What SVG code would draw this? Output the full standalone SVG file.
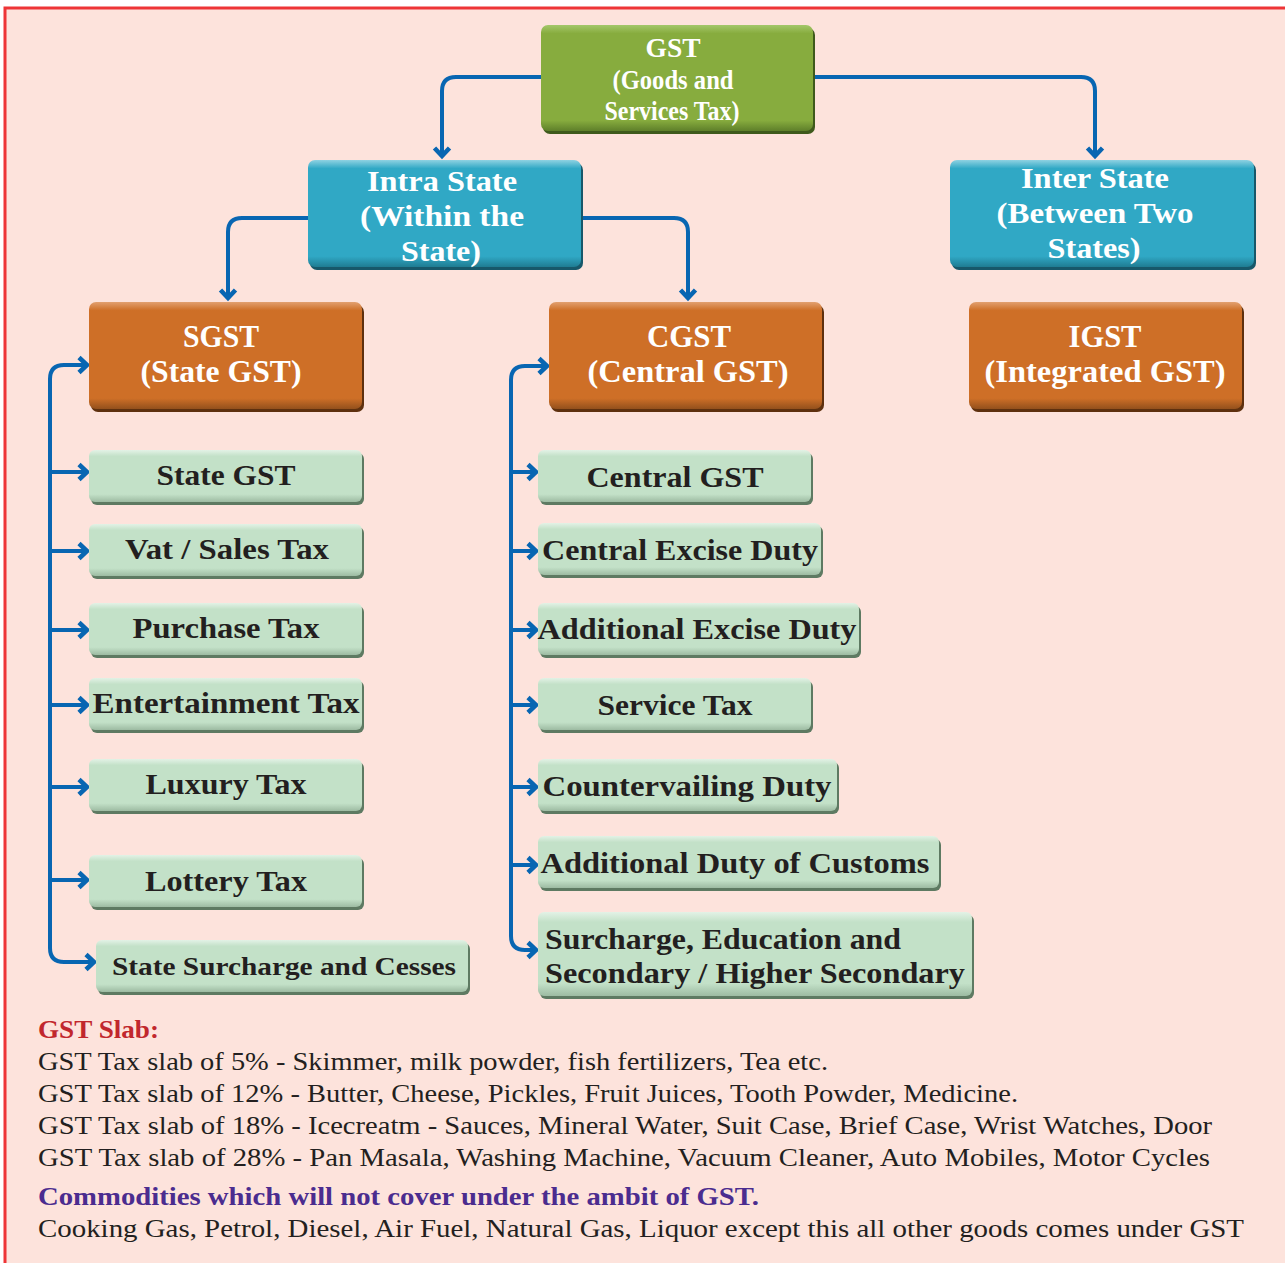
<svg xmlns="http://www.w3.org/2000/svg" width="1285" height="1263" viewBox="0 0 1285 1263">
<defs>
<style>
.t{font-family:"Liberation Serif","Times New Roman",serif;font-weight:bold;text-anchor:middle}
.w{fill:#ffffff}
.d{fill:#231F20}
.con{fill:none;stroke:#0866B2;stroke-width:4;marker-end:url(#ah)}
.body{font-family:"Liberation Serif","Times New Roman",serif;font-size:26px;fill:#231F20}
</style>
<marker id="ah" markerUnits="userSpaceOnUse" markerWidth="22" markerHeight="22" viewBox="0 0 22 22" refX="15" refY="11" orient="auto">
<path d="M6,3.5 L14,11 L6,18.5" fill="none" stroke="#0866B2" stroke-width="4.6" stroke-linejoin="miter"/>
</marker>
<linearGradient id="gG" x1="0" y1="0" x2="0" y2="1">
<stop offset="0" stop-color="#A4C76A"/><stop offset="0.08" stop-color="#87AC3E"/><stop offset="0.9" stop-color="#87AC3E"/><stop offset="1" stop-color="#5E7F2A"/>
</linearGradient>
<linearGradient id="gB" x1="0" y1="0" x2="0" y2="1">
<stop offset="0" stop-color="#8FD2E2"/><stop offset="0.08" stop-color="#30A8C5"/><stop offset="0.9" stop-color="#30A8C5"/><stop offset="1" stop-color="#1F7C92"/>
</linearGradient>
<linearGradient id="gO" x1="0" y1="0" x2="0" y2="1">
<stop offset="0" stop-color="#E2A070"/><stop offset="0.08" stop-color="#CE6F27"/><stop offset="0.9" stop-color="#CE6F27"/><stop offset="1" stop-color="#93501C"/>
</linearGradient>
<linearGradient id="gL" x1="0" y1="0" x2="0" y2="1">
<stop offset="0" stop-color="#E3F2E6"/><stop offset="0.12" stop-color="#C3E1C8"/><stop offset="0.85" stop-color="#C3E1C8"/><stop offset="1" stop-color="#9DBBA2"/>
</linearGradient>
</defs>

<rect x="0" y="0" width="1285" height="1263" fill="#ffffff"/>
<rect x="5" y="8" width="1290" height="1270" fill="#FDE3DC" stroke="#EE3537" stroke-width="3"/>

<g id="connectors">
<path class="con" d="M541,77 H456 Q442,77 442,91 V157"/>
<path class="con" d="M813,77 H1081 Q1095,77 1095,91 V157"/>
<path class="con" d="M308,218 H242 Q228,218 228,232 V299"/>
<path class="con" d="M581,218 H674 Q688,218 688,232 V299"/>
<path class="con" d="M50,480 V379 Q50,365 64,365 H88"/>
<path class="con" d="M50,470 V948 Q50,962 64,962 H95"/>
<path class="con" d="M50,472 H88"/>
<path class="con" d="M50,551 H88"/>
<path class="con" d="M50,630 H88"/>
<path class="con" d="M50,705 H88"/>
<path class="con" d="M50,787 H88"/>
<path class="con" d="M50,880 H88"/>
<path class="con" d="M511,480 V380 Q511,366 525,366 H548"/>
<path class="con" d="M511,470 V936 Q511,950 525,950 H537"/>
<path class="con" d="M511,472 H537"/>
<path class="con" d="M511,551 H537"/>
<path class="con" d="M511,630 H537"/>
<path class="con" d="M511,705 H537"/>
<path class="con" d="M511,787 H537"/>
<path class="con" d="M511,865 H537"/>
</g>

<g id="gst">
<rect x="543" y="28" width="272" height="106" rx="7" fill="#3F5A1C"/>
<rect x="541" y="25" width="272" height="106" rx="7" fill="url(#gG)"/>
<text class="t w" font-size="27" x="673" y="57" textLength="55" lengthAdjust="spacingAndGlyphs">GST</text>
<text class="t w" font-size="27" x="673" y="89" textLength="121" lengthAdjust="spacingAndGlyphs">(Goods and</text>
<text class="t w" font-size="27" x="672" y="120" textLength="135" lengthAdjust="spacingAndGlyphs">Services Tax)</text>
</g>

<g id="intra">
<rect x="310" y="163" width="273" height="107" rx="7" fill="#17586A"/>
<rect x="308" y="160" width="273" height="107" rx="7" fill="url(#gB)"/>
<text class="t w" font-size="30" x="442" y="191" textLength="150" lengthAdjust="spacingAndGlyphs">Intra State</text>
<text class="t w" font-size="30" x="442" y="226" textLength="164" lengthAdjust="spacingAndGlyphs">(Within the</text>
<text class="t w" font-size="30" x="441" y="261" textLength="80" lengthAdjust="spacingAndGlyphs">State)</text>
</g>

<g id="inter">
<rect x="952" y="163" width="304" height="107" rx="7" fill="#17586A"/>
<rect x="950" y="160" width="304" height="107" rx="7" fill="url(#gB)"/>
<text class="t w" font-size="30" x="1095" y="188" textLength="148" lengthAdjust="spacingAndGlyphs">Inter State</text>
<text class="t w" font-size="30" x="1095" y="223" textLength="197" lengthAdjust="spacingAndGlyphs">(Between Two</text>
<text class="t w" font-size="30" x="1094" y="258" textLength="93" lengthAdjust="spacingAndGlyphs">States)</text>
</g>

<g id="sgst">
<rect x="91" y="305" width="273" height="107" rx="7" fill="#5E300E"/>
<rect x="89" y="302" width="273" height="107" rx="7" fill="url(#gO)"/>
<text class="t w" font-size="31" x="221" y="347" textLength="76" lengthAdjust="spacingAndGlyphs">SGST</text>
<text class="t w" font-size="31" x="221" y="382" textLength="161" lengthAdjust="spacingAndGlyphs">(State GST)</text>
</g>

<g id="cgst">
<rect x="551" y="305" width="273" height="107" rx="7" fill="#5E300E"/>
<rect x="549" y="302" width="273" height="107" rx="7" fill="url(#gO)"/>
<text class="t w" font-size="31" x="689" y="347" textLength="84" lengthAdjust="spacingAndGlyphs">CGST</text>
<text class="t w" font-size="31" x="688" y="382" textLength="201" lengthAdjust="spacingAndGlyphs">(Central GST)</text>
</g>

<g id="igst">
<rect x="971" y="305" width="273" height="107" rx="7" fill="#5E300E"/>
<rect x="969" y="302" width="273" height="107" rx="7" fill="url(#gO)"/>
<text class="t w" font-size="31" x="1105" y="347" textLength="73" lengthAdjust="spacingAndGlyphs">IGST</text>
<text class="t w" font-size="31" x="1105" y="382" textLength="241" lengthAdjust="spacingAndGlyphs">(Integrated GST)</text>
</g>

<g id="state-gst">
<rect x="91" y="453" width="273" height="52" rx="6" fill="#5E7A62"/>
<rect x="89" y="450" width="273" height="52" rx="6" fill="url(#gL)"/>
<text class="t d" font-size="29" x="226" y="485" textLength="139" lengthAdjust="spacingAndGlyphs">State GST</text>
</g>
<g id="vat">
<rect x="91" y="527" width="273" height="52" rx="6" fill="#5E7A62"/>
<rect x="89" y="524" width="273" height="52" rx="6" fill="url(#gL)"/>
<text class="t d" font-size="29" x="227" y="559" textLength="204" lengthAdjust="spacingAndGlyphs">Vat / Sales Tax</text>
</g>
<g id="purchase">
<rect x="91" y="606" width="273" height="52" rx="6" fill="#5E7A62"/>
<rect x="89" y="603" width="273" height="52" rx="6" fill="url(#gL)"/>
<text class="t d" font-size="29" x="226" y="638" textLength="187" lengthAdjust="spacingAndGlyphs">Purchase Tax</text>
</g>
<g id="entertainment">
<rect x="91" y="681" width="273" height="52" rx="6" fill="#5E7A62"/>
<rect x="89" y="678" width="273" height="52" rx="6" fill="url(#gL)"/>
<text class="t d" font-size="29" x="226" y="713" textLength="267" lengthAdjust="spacingAndGlyphs">Entertainment Tax</text>
</g>
<g id="luxury">
<rect x="91" y="762" width="273" height="52" rx="6" fill="#5E7A62"/>
<rect x="89" y="759" width="273" height="52" rx="6" fill="url(#gL)"/>
<text class="t d" font-size="29" x="226" y="794" textLength="161" lengthAdjust="spacingAndGlyphs">Luxury Tax</text>
</g>
<g id="lottery">
<rect x="91" y="858" width="273" height="52" rx="6" fill="#5E7A62"/>
<rect x="89" y="855" width="273" height="52" rx="6" fill="url(#gL)"/>
<text class="t d" font-size="29" x="226" y="891" textLength="162" lengthAdjust="spacingAndGlyphs">Lottery Tax</text>
</g>
<g id="state-surcharge">
<rect x="98" y="943" width="372" height="52" rx="6" fill="#5E7A62"/>
<rect x="96" y="940" width="372" height="52" rx="6" fill="url(#gL)"/>
<text class="t d" font-size="26" x="284" y="975" textLength="344" lengthAdjust="spacingAndGlyphs">State Surcharge and Cesses</text>
</g>

<g id="central-gst">
<rect x="540" y="453" width="273" height="52" rx="6" fill="#5E7A62"/>
<rect x="538" y="450" width="273" height="52" rx="6" fill="url(#gL)"/>
<text class="t d" font-size="29" x="675" y="487" textLength="177" lengthAdjust="spacingAndGlyphs">Central GST</text>
</g>
<g id="central-excise">
<rect x="540" y="526" width="283" height="52" rx="6" fill="#5E7A62"/>
<rect x="538" y="523" width="283" height="52" rx="6" fill="url(#gL)"/>
<text class="t d" font-size="29" x="680" y="560" textLength="276" lengthAdjust="spacingAndGlyphs">Central Excise Duty</text>
</g>
<g id="additional-excise">
<rect x="540" y="606" width="321" height="52" rx="6" fill="#5E7A62"/>
<rect x="538" y="603" width="321" height="52" rx="6" fill="url(#gL)"/>
<text class="t d" font-size="29" x="697" y="639" textLength="319" lengthAdjust="spacingAndGlyphs">Additional Excise Duty</text>
</g>
<g id="service-tax">
<rect x="540" y="681" width="273" height="52" rx="6" fill="#5E7A62"/>
<rect x="538" y="678" width="273" height="52" rx="6" fill="url(#gL)"/>
<text class="t d" font-size="29" x="675" y="715" textLength="155" lengthAdjust="spacingAndGlyphs">Service Tax</text>
</g>
<g id="countervailing">
<rect x="540" y="762" width="299" height="52" rx="6" fill="#5E7A62"/>
<rect x="538" y="759" width="299" height="52" rx="6" fill="url(#gL)"/>
<text class="t d" font-size="29" x="687" y="796" textLength="289" lengthAdjust="spacingAndGlyphs">Countervailing Duty</text>
</g>
<g id="additional-customs">
<rect x="540" y="839" width="401" height="52" rx="6" fill="#5E7A62"/>
<rect x="538" y="836" width="401" height="52" rx="6" fill="url(#gL)"/>
<text class="t d" font-size="29" x="735" y="873" textLength="389" lengthAdjust="spacingAndGlyphs">Additional Duty of Customs</text>
</g>
<g id="surcharge-education">
<rect x="540" y="915" width="434" height="84" rx="6" fill="#5E7A62"/>
<rect x="538" y="912" width="434" height="84" rx="6" fill="url(#gL)"/>
<text class="t d" font-size="29" x="723" y="949" textLength="356" lengthAdjust="spacingAndGlyphs">Surcharge, Education and</text>
<text class="t d" font-size="29" x="755" y="983" textLength="420" lengthAdjust="spacingAndGlyphs">Secondary / Higher Secondary</text>
</g>

<g id="notes">
<text x="38" y="1038" font-family="Liberation Serif, serif" font-weight="bold" font-size="26" fill="#C1272D" textLength="121" lengthAdjust="spacingAndGlyphs">GST Slab:</text>
<text class="body" x="38" y="1070" textLength="790" lengthAdjust="spacingAndGlyphs">GST Tax slab of 5% - Skimmer, milk powder, fish fertilizers, Tea etc.</text>
<text class="body" x="38" y="1102" textLength="980" lengthAdjust="spacingAndGlyphs">GST Tax slab of 12% - Butter, Cheese, Pickles, Fruit Juices, Tooth Powder, Medicine.</text>
<text class="body" x="38" y="1134" textLength="1174" lengthAdjust="spacingAndGlyphs">GST Tax slab of 18% - Icecreatm - Sauces, Mineral Water, Suit Case, Brief Case, Wrist Watches, Door</text>
<text class="body" x="38" y="1166" textLength="1172" lengthAdjust="spacingAndGlyphs">GST Tax slab of 28% - Pan Masala, Washing Machine, Vacuum Cleaner, Auto Mobiles, Motor Cycles</text>
<text x="38" y="1205" font-family="Liberation Serif, serif" font-weight="bold" font-size="26" fill="#4B2C8F" textLength="721" lengthAdjust="spacingAndGlyphs">Commodities which will not cover under the ambit of GST.</text>
<text class="body" x="38" y="1237" textLength="1206" lengthAdjust="spacingAndGlyphs">Cooking Gas, Petrol, Diesel, Air Fuel, Natural Gas, Liquor except this all other goods comes under GST</text>
</g>
</svg>
